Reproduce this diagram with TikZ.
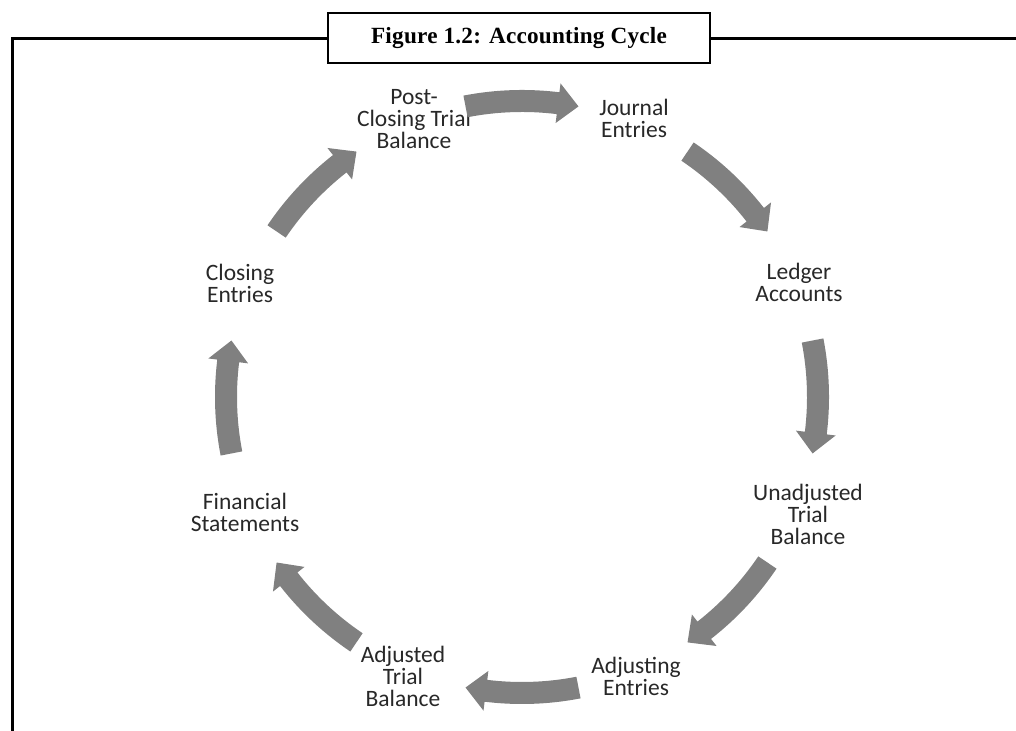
\documentclass[tikz,border=0pt]{standalone}
\usepackage{fontspec}
\setmainfont{Carlito}
\newfontfamily\titlefont[LetterSpace=1]{Liberation Serif}
\usetikzlibrary{positioning}
\definecolor{arrowgray}{RGB}{128,128,128}
\definecolor{labelink}{RGB}{40,40,40}
\tikzset{
  stage/.style={align=center, inner sep=0pt, text=labelink, font=\fontsize{11.75}{11}\selectfont},
  cyclearrow/.style={fill=arrowgray, draw=none},
  frame/.style={draw=black, line width=1.5pt},
  titlebox/.style={draw=black, line width=1.2pt, fill=white, minimum width=191pt, minimum height=25pt, font=\titlefont\bfseries\fontsize{11.6}{13}\selectfont}
}

\begin{document}
\begin{tikzpicture}[x=0.5pt, y=0.5pt]
  \useasboundingbox (0,0) rectangle (1016,731);

  % Frame and caption
  \draw[frame] (12.7,0) -- (12.7,692.5) -- (1016,692.5);
  \node[titlebox] (title) at (519,693) {Figure 1.2: Accounting Cycle};

  % Stages of the cycle
  \node[stage] (post)      at (414,612) {Post-\\Closing Trial\\Balance};
  \node[stage] (journal)   at (634,613) {Journal\\Entries};
  \node[stage] (ledger)    at (799,449) {Ledger\\Accounts};
  \node[stage] (unadj)     at (808,217) {Unadjusted\\Trial\\Balance};
  \node[stage] (adjusting) at (636,55)  {Adjusting\\Entries};
  \node[stage] (adjusted)  at (403,55)  {Adjusted\\Trial\\Balance};
  \node[stage] (financial) at (245,219) {Financial\\Statements};
  \node[stage] (closing)   at (240,448) {Closing\\Entries};

  % Curved block arrows, clockwise
  \begin{scope}[shift={(522,334)}]
    \foreach \a in {90,45,0,-45,-90,-135,-180,-225}
      \fill[cyclearrow] ({\a+11}:307) arc[start angle={\a+11}, end angle={\a-7}, radius=307]
        -- ({\a-7}:316) -- ({\a-11}:296) -- ({\a-7}:276) -- ({\a-7}:285)
        arc[start angle={\a-7}, end angle={\a+11}, radius=285] -- cycle;
  \end{scope}
\end{tikzpicture}
\end{document}
